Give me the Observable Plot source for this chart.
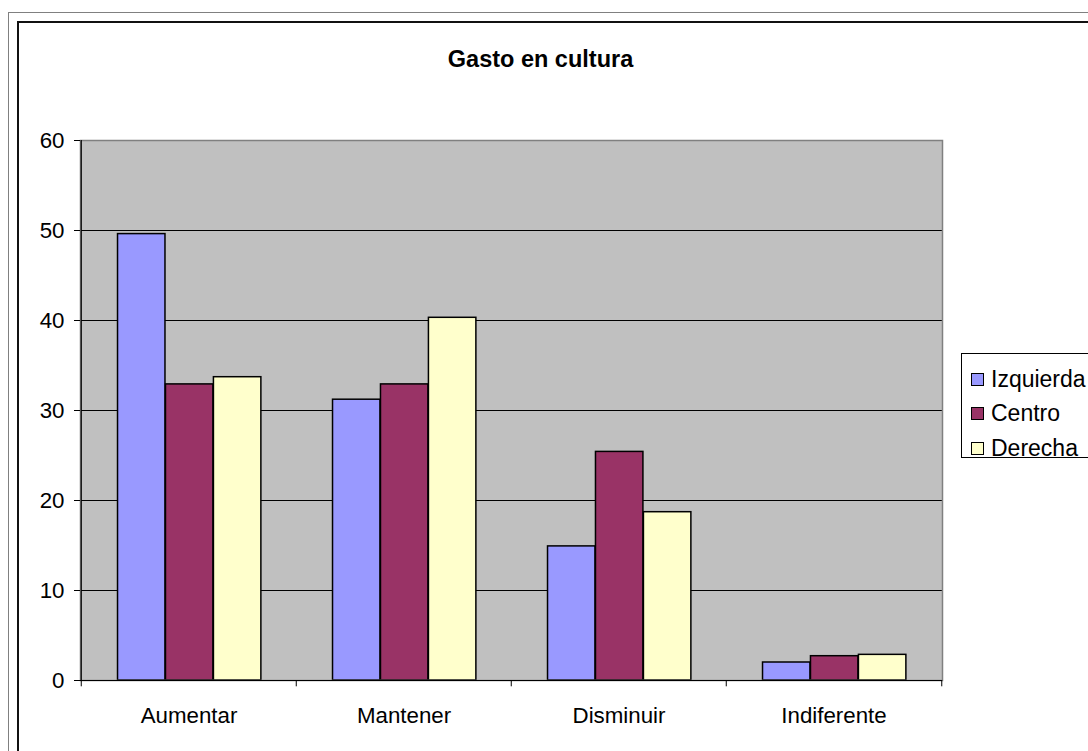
<!DOCTYPE html>
<html>
<head>
<meta charset="utf-8">
<script src="https://cdn.jsdelivr.net/npm/d3@7"></script>
<script src="https://cdn.jsdelivr.net/npm/@observablehq/plot@0.6"></script>
<style>
  html, body { margin: 0; padding: 0; background: #fff; }
  #wrap { position: relative; width: 1088px; height: 751px; overflow: hidden; font-family: "Liberation Sans", Arial, sans-serif; background: #fff; }
  .border-outer { position: absolute; z-index: 5; left: 8px; top: 12px; width: 3000px; height: 3000px; border-left: 1px solid #808080; border-top: 1px solid #808080; pointer-events: none; }
  .border-inner { position: absolute; z-index: 5; left: 17px; top: 21px; width: 3000px; height: 3000px; border-left: 2px solid #111; border-top: 2px solid #111; pointer-events: none; }
  #chart { position: absolute; left: 0; top: 0; }
  #title { position: absolute; left: 0; width: 1081px; top: 48px; text-align: center; font-weight: bold; font-size: 23.5px; line-height: 23.5px; color: #000; }
  #legend { position: absolute; left: 961px; top: 353px; width: 140px; height: 103px; border: 1px solid #000; background: #fff; }
  .item { position: absolute; left: 0; height: 22px; line-height: 22px; font-size: 23px; white-space: nowrap; }
  .sw { position: absolute; left: 9px; top: 5px; width: 11px; height: 11px; border: 1px solid #000; }
  .lbl { position: absolute; left: 29px; top: 0; }
</style>
</head>
<body>
<div id="wrap">
  <div id="chart"></div>
  <div id="title">Gasto en cultura</div>
  <div id="legend"></div>
  <div class="border-outer"></div>
  <div class="border-inner"></div>
</div>
<script>
const categories = ["Aumentar", "Mantener", "Disminuir", "Indiferente"];
const series = ["Izquierda", "Centro", "Derecha"];
const izquierda = [49.6, 31.2, 14.9, 2.0];
const centro = [32.9, 32.9, 25.4, 2.7];
const derecha = [33.7, 40.3, 18.7, 2.85];
const seriesColors = ["#9999FF", "#993366", "#FFFFCC"];
const yTicks = [0, 10, 20, 30, 40, 50, 60];

const values = [izquierda, centro, derecha];
const rows = categories.flatMap((c, i) => series.map((s, j) => ({category: c, series: s, value: values[j][i]})));

const W = 1088, H = 751;
const mL = 80, mR = 146, mT = 140, mB = 71;
const bw = (W - mL - mR) / categories.length;
const barW = bw * 0.2225;
const off = bw * 0.1695;

const chart = Plot.plot({
  width: W,
  height: H,
  marginLeft: mL,
  marginRight: mR,
  marginTop: mT,
  marginBottom: mB,
  style: {fontFamily: "'Liberation Sans', Arial, sans-serif", fontSize: "22.3px", background: "transparent", color: "#000"},
  x: {domain: categories, padding: 0, label: null},
  y: {domain: [0, 60], label: null},
  marks: [
    Plot.frame({fill: "#C0C0C0"}),
    Plot.ruleY(yTicks.filter(v => v > 0 && v < 60), {stroke: "#000", strokeWidth: 1}),
    ...series.map((s, j) => Plot.barY(rows.filter(d => d.series === s), {
      x: "category",
      y: "value",
      fill: seriesColors[j],
      stroke: "#000",
      strokeWidth: 1.5,
      insetLeft: off + j * barW,
      insetRight: bw - off - (j + 1) * barW
    })),
    Plot.frame({stroke: "#808080", strokeWidth: 1.5}),
    Plot.ruleY([0], {stroke: "#000", strokeWidth: 1.2}),
    Plot.ruleX([categories[0]], {x: d => d, y1: 0, y2: 60, dx: -bw / 2, stroke: "#000", strokeWidth: 1.2}),
    Plot.ruleX(categories, {x: d => d, y1: 0, y2: -0.7, dx: -bw / 2, stroke: "#000"}),
    Plot.ruleX([categories[categories.length - 1]], {x: d => d, y1: 0, y2: -0.7, dx: bw / 2, stroke: "#000"}),
    Plot.axisY({ticks: yTicks, tickSize: 6, tickPadding: 10, label: null}),
    Plot.axisX({tickSize: 0, tickPadding: 27, label: null})
  ]
});
document.getElementById("chart").appendChild(chart);

const legend = document.getElementById("legend");
const rowCenters = [25, 59, 94];
series.forEach((s, j) => {
  const item = document.createElement("div");
  item.className = "item";
  item.style.top = (rowCenters[j] - 11) + "px";
  const sw = document.createElement("div");
  sw.className = "sw";
  sw.style.background = seriesColors[j];
  const lbl = document.createElement("div");
  lbl.className = "lbl";
  lbl.textContent = s;
  item.appendChild(sw);
  item.appendChild(lbl);
  legend.appendChild(item);
});
</script>
</body>
</html>
